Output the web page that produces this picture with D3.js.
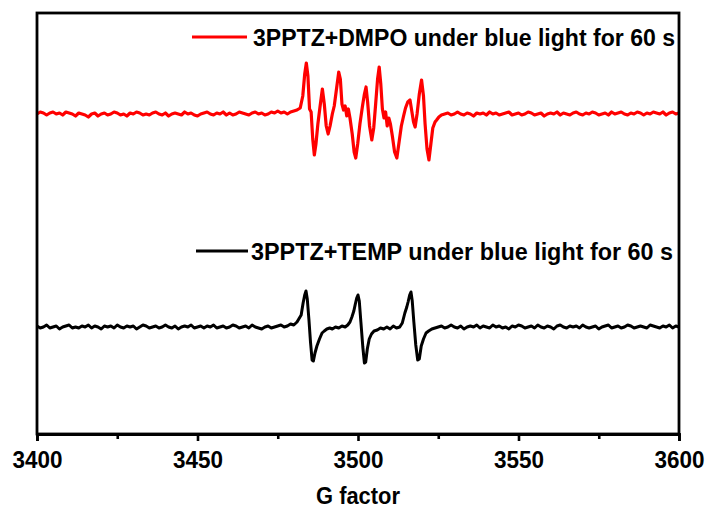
<!DOCTYPE html>
<html>
<head>
<meta charset="utf-8">
<script src="https://cdn.jsdelivr.net/npm/d3@7"></script>
<style>
  html, body { margin: 0; padding: 0; background: #fff; }
  svg { display: block; }
  text { font-family: "Liberation Sans", Arial, sans-serif; font-weight: bold; }
</style>
</head>
<body>
<svg id="chart" width="708" height="510"></svg>
<script>
// ---------- DATA ----------
const xTicks = [3400, 3450, 3500, 3550, 3600];
const xMinorTicks = [3425, 3475, 3525, 3575];
const xLabel = "G factor";
const seriesNames = ["3PPTZ+DMPO under blue light for 60 s", "3PPTZ+TEMP under blue light for 60 s"];
const seriesColors = ["#ff0000", "#000000"];
// vertical stacking offsets (arbitrary intensity units)
const redOffset = 320;
const blackOffset = 107;

// baseline noise, G = 3400, 3401, ...
const redLeft = [0,2,1,-1,1,2,0,1,-1,2, 1,0,-2,1,0,-1,-3,0,1,-2, 0,1,-1,0,2,1,-1,0,-2,1,
  0,2,1,-1,0,-1,1,2,0,-1, 1,-2,0,1,0,-1,2,0,1,-1, -2,0,1,2,0,-1,1,0,2,-1,
  1,-1,0,2,1,0,-1,1,2,0, 1,-1,0,2,1,3,1,2,0,2, 3,4];
// signal region [G, intensity]
const redSignal = [[3482,6],[3482.8,18],[3483.4,40],[3483.9,51],[3484.4,38],[3484.9,5],[3485.4,2],[3485.9,-25],
  [3486.4,-41],[3486.9,-30],[3487.5,-10],[3488.2,8],[3488.9,25],[3489.5,10],[3490.1,-12],[3490.7,-20],[3491.3,-12],
  [3492.0,0],[3492.6,8],[3493.3,25],[3494.0,42],[3494.5,35],[3495.0,10],[3495.5,4],[3496.0,8],[3496.5,-2],[3497.0,5],
  [3497.5,-4],[3498.2,-20],[3498.8,-38],[3499.3,-44],[3499.9,-30],[3500.6,-10],[3501.4,8],[3502.0,20],[3502.5,27],
  [3503.0,12],[3503.6,-12],[3504.3,-26],[3504.9,-14],[3505.5,10],[3506.1,35],[3506.6,47],[3507.1,30],[3507.6,5],
  [3508.1,-4],[3508.6,2],[3509.1,-12],[3509.6,-4],[3510.1,-10],[3510.7,-22],[3511.4,-38],[3512.1,-44],[3512.8,-28],
  [3513.5,-12],[3514.2,-2],[3514.8,6],[3515.5,12],[3516.2,14],[3516.8,2],[3517.3,-8],[3517.8,-13],[3518.4,0],
  [3519.1,20],[3519.8,34],[3520.4,18],[3520.9,-10],[3521.5,-35],[3522.1,-46],[3522.7,-30],[3523.3,-14],[3524.0,-8],
  [3524.5,-6],[3525.2,-3]];
// baseline noise, G = 3526, 3527, ...
const redRight = [-1,0,1,-1,0,2,0,-1,1,0, -2,1,0,1,-1,2,0,1,-1,0, 1,2,-1,0,1,-1,0,2,1,-1,
  0,1,-2,0,1,0,2,-1,1,0, -1,1,2,0,-1,1,0,2,1,-1, 0,1,-1,2,0,1,2,0,-1,1,
  0,2,1,-1,1,0,2,1,0,2, -1,1,2,0,1];

const blackLeft = [1,-1,0,2,-1,0,1,-2,0,1, 2,-1,0,-1,1,0,2,-1,1,0, -2,1,0,1,-1,2,0,-1,1,0,
  1,-2,0,2,1,-1,0,1,-1,0, 2,0,-1,1,-2,0,1,0,2,-1, 0,1,-1,1,0,2,-1,0,1,-1,
  0,2,1,-1,0,1,-1,2,0,-1, -2,0,1,-1,0,1,2,0,1,3, 2,5];
const blackSignal = [[3482.3,12],[3482.9,24],[3483.4,32],[3483.8,36],[3484.2,28],[3484.7,8],[3485.2,-15],[3485.7,-33],
  [3486.1,-34],[3486.6,-26],[3487.2,-19],[3488.0,-12],[3488.8,-6],[3489.5,-4],[3490.3,-2],[3491.2,-1],[3492.0,-2],
  [3493.0,0],[3494.0,-1],[3495.0,1],[3496.0,0],[3496.8,2],[3497.5,5],[3498.1,10],[3498.7,16],[3499.1,22],[3499.6,29],
  [3500.0,32],[3500.4,26],[3500.9,5],[3501.5,-20],[3502.0,-36],[3502.4,-35],[3502.9,-22],[3503.5,-12],[3504.2,-7],
  [3505.0,-4],[3506.0,-3],[3507.0,-1],[3508.0,-2],[3509.0,0],[3510.0,-2],[3511.0,1],[3512.0,-1],[3513.0,0],
  [3513.8,4],[3514.6,14],[3515.2,20],[3515.6,25],[3516.1,32],[3516.5,35],[3516.9,26],[3517.4,5],[3518.0,-18],
  [3518.6,-33],[3519.1,-32],[3519.7,-19],[3520.4,-12],[3521.2,-6],[3522.0,-4],[3523.0,-2],[3524.0,-1],[3525.0,0]];
const blackRight = [1,-1,0,2,0,-1,1,-2,0,1, 0,2,-1,1,0,-1,2,0,1,-1, 0,-2,1,0,2,1,-1,0,1,-1,
  2,0,-1,1,0,-2,1,2,0,-1, 1,0,1,-1,2,0,-1,0,1,-2, 0,1,2,-1,0,1,-1,0,2,1,
  -1,0,1,0,-1,2,1,0,-1,1, 0,2,-1,1,0];

// ---------- BUILD SERIES ----------
function build(leftArr, signal, rightArr, offset) {
  const pts = [];
  leftArr.forEach((v, i) => pts.push([3400 + i, v + offset]));
  signal.forEach(([g, v]) => pts.push([g, v + offset]));
  rightArr.forEach((v, i) => pts.push([3526 + i, v + offset]));
  return pts;
}
const redData = build(redLeft, redSignal, redRight, redOffset);
const blackData = build(blackLeft, blackSignal, blackRight, blackOffset);

// ---------- LAYOUT ----------
const svg = d3.select("#chart");
const mL = 37, mR = 679, mT = 13, mB = 434;
const x = d3.scaleLinear().domain([3400, 3600]).range([mL, mR]);
const y = d3.scaleLinear().domain([0, 421]).range([mB, mT]);

const line = d3.line().x(d => x(d[0])).y(d => y(d[1]));

svg.append("path").datum(blackData)
  .attr("d", line).attr("fill", "none").attr("stroke", seriesColors[1])
  .attr("stroke-width", 3).attr("stroke-linejoin", "round");
svg.append("path").datum(redData)
  .attr("d", line).attr("fill", "none").attr("stroke", seriesColors[0])
  .attr("stroke-width", 3.2).attr("stroke-linejoin", "round");

// frame
svg.append("rect").attr("x", mL).attr("y", mT)
  .attr("width", mR - mL).attr("height", mB - mT)
  .attr("fill", "none").attr("stroke", "#000").attr("stroke-width", 2.8);

// minor ticks
const minorAxis = d3.axisBottom(x).tickValues(xMinorTicks).tickSize(5).tickFormat("");
svg.append("g").attr("transform", `translate(0,${mB})`).call(minorAxis)
  .call(g => g.select(".domain").remove())
  .call(g => g.selectAll(".tick line").attr("stroke-width", 2.6));

// major axis
const axis = d3.axisBottom(x).tickValues(xTicks).tickSize(7).tickFormat(d3.format("d"));
const gx = svg.append("g").attr("transform", `translate(0,${mB})`).call(axis);
gx.select(".domain").attr("stroke-width", 2.8);
gx.selectAll(".tick line").attr("stroke-width", 2.6);
gx.selectAll(".tick text")
  .attr("y", 34).attr("dy", 0)
  .attr("font-size", 24).attr("font-weight", "bold")
  .attr("font-family", "'Liberation Sans', Arial, sans-serif")
  .attr("textLength", 50).attr("lengthAdjust", "spacingAndGlyphs")
  .attr("fill", "#000");

// axis title
svg.append("text").attr("x", (mL + mR) / 2).attr("y", 504)
  .attr("text-anchor", "middle").attr("font-size", 23)
  .attr("textLength", 84).attr("lengthAdjust", "spacingAndGlyphs").text(xLabel);

// legends
const legends = [
  { name: seriesNames[0], color: seriesColors[0], y: 37, x0: 192, x1: 247, tx: 253, tl: 422 },
  { name: seriesNames[1], color: seriesColors[1], y: 251, x0: 196, x1: 248, tx: 251, tl: 422 }
];
legends.forEach(l => {
  svg.append("line").attr("x1", l.x0).attr("x2", l.x1).attr("y1", l.y).attr("y2", l.y)
    .attr("stroke", l.color).attr("stroke-width", 3);
  svg.append("text").attr("x", l.tx).attr("y", l.y + 8.5)
    .attr("font-size", 23).attr("textLength", l.tl).attr("lengthAdjust", "spacingAndGlyphs")
    .attr("fill", "#000").text(l.name);
});
</script>
</body>
</html>
